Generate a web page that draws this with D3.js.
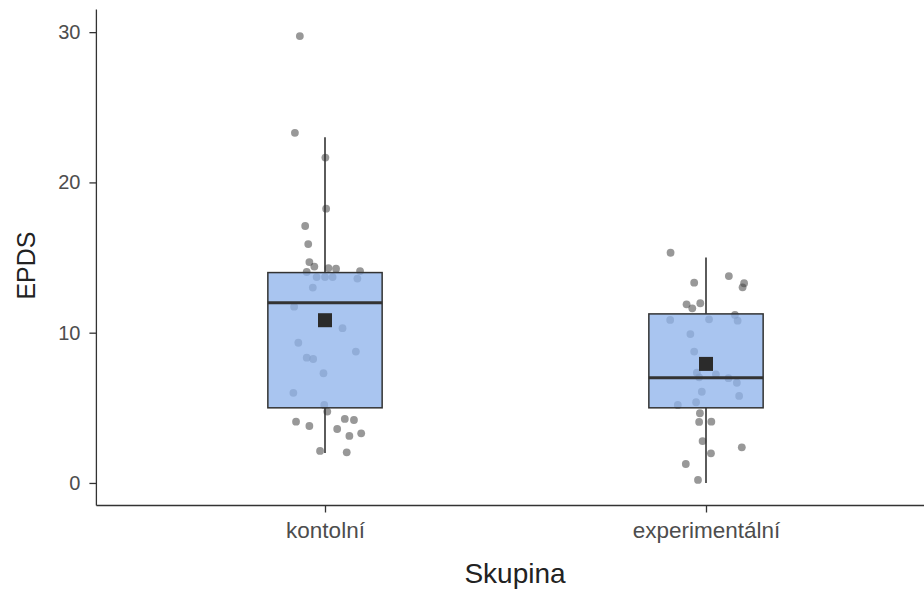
<!DOCTYPE html>
<html><head><meta charset="utf-8">
<script src="https://cdn.jsdelivr.net/npm/d3@7"></script>
<style>body{margin:0;background:#fff}svg{display:block}text{font-family:"Liberation Sans",Arial,sans-serif}</style>
</head><body>
<svg id="chart" width="924" height="589"></svg>
<script>
// ---- data ----
const categories = ["kontolní", "experimentální"];
const yTicks = [0, 10, 20, 30];
const xTitle = "Skupina";
const yTitle = "EPDS";
// box statistics
const q1 = [5, 5];
const medians = [12, 7];
const q3 = [14, 11.25];
const whiskerLo = [2, 0];
const whiskerHi = [23, 15];
// jittered observations
const valuesK = [29.74,23.3,21.65,18.25,17.1,15.9,14.7,14.4,14.3,14.26,14.1,14.04,13.7,13.7,13.7,13.6,13.0,11.73,10.3,9.33,8.34,8.25,8.74,7.3,6.0,5.19,4.75,4.08,3.79,4.26,4.19,3.59,3.13,3.3,2.13,2.04];
const jitterK = [-0.066,-0.079,0.001,0.003,-0.052,-0.044,-0.041,-0.028,0.009,0.029,0.092,-0.048,-0.022,0,0.020,0.085,-0.032,-0.081,0.046,-0.070,-0.048,-0.031,0.081,-0.004,-0.083,-0.002,0.006,-0.076,-0.041,0.052,0.076,0.032,0.064,0.095,-0.013,0.057];
const valuesE = [15.32,13.33,13.77,13.29,13.02,11.89,11.62,11.96,10.85,10.89,11.18,10.8,9.91,8.74,7.34,7.03,7.23,6.97,6.67,6.07,5.79,5.19,5.37,4.64,4.06,4.08,2.79,1.97,2.37,1.26,0.2];
const jitterE = [-0.093,-0.031,0.060,0.100,0.096,-0.051,-0.036,-0.015,-0.094,0.008,0.076,0.083,-0.041,-0.031,-0.024,-0.018,0.026,0.059,0.081,-0.011,0.087,-0.074,-0.026,-0.016,-0.018,0.014,-0.009,0.013,0.094,-0.053,-0.021];

const groups = [
  {cat: categories[0], values: valuesK, jitter: jitterK},
  {cat: categories[1], values: valuesE, jitter: jitterE}
];

// ---- layout ----
const svg = d3.select("#chart");
const panel = {left: 96.4, right: 934.6, top: 9.6, bottom: 505.5};
const x = d3.scalePoint().domain(categories).range([panel.left, panel.right]).padding(0.6);
const y = d3.scaleLinear().domain([-1.5, 31.5]).range([panel.bottom, panel.top]);
const step = x.step();
const boxW = 0.3 * step;

// points (under boxes)
const pts = svg.append("g");
groups.forEach(g => {
  pts.selectAll(null).data(g.values).enter().append("circle")
    .attr("cx", (d, i) => x(g.cat) + g.jitter[i] * step)
    .attr("cy", d => y(d))
    .attr("r", 3.9)
    .attr("fill", "#444")
    .attr("fill-opacity", 0.55);
});

// boxes
const bx = svg.append("g");
categories.forEach((c, i) => {
  const cx = x(c);
  bx.append("line").attr("x1", cx).attr("x2", cx).attr("y1", y(q3[i])).attr("y2", y(whiskerHi[i]))
    .attr("stroke", "#333").attr("stroke-width", 1.6);
  bx.append("line").attr("x1", cx).attr("x2", cx).attr("y1", y(q1[i])).attr("y2", y(whiskerLo[i]))
    .attr("stroke", "#333").attr("stroke-width", 1.6);
  bx.append("rect").attr("x", cx - boxW / 2).attr("width", boxW)
    .attr("y", y(q3[i])).attr("height", y(q1[i]) - y(q3[i]))
    .attr("fill", "#8fb4eb").attr("fill-opacity", 0.77)
    .attr("stroke", "#333").attr("stroke-width", 1.5);
  bx.append("line").attr("x1", cx - boxW / 2).attr("x2", cx + boxW / 2)
    .attr("y1", y(medians[i])).attr("y2", y(medians[i]))
    .attr("stroke", "#333").attr("stroke-width", 3);
  const m = d3.mean(groups[i].values);
  bx.append("rect").attr("x", cx - 7).attr("y", y(m) - 7).attr("width", 14).attr("height", 14)
    .attr("fill", "#2b2b2b");
});

// axes
const yAxis = svg.append("g").attr("transform", `translate(${panel.left},0)`)
  .call(d3.axisLeft(y).tickValues(yTicks).tickSize(7).tickPadding(9));
const xAxis = svg.append("g").attr("transform", `translate(0,${panel.bottom})`)
  .call(d3.axisBottom(x).tickSize(7).tickPadding(10));
[yAxis, xAxis].forEach(a => {
  a.select(".domain").remove();
  a.selectAll(".tick line").attr("stroke", "#333").attr("stroke-width", 1.3);
  a.selectAll(".tick text").attr("fill", "#4d4d4d")
    .style("font-family", '"Liberation Sans", Arial, sans-serif');
});
yAxis.selectAll(".tick text").style("font-size", "20px");
xAxis.selectAll(".tick text").style("font-size", "22.5px");
svg.append("line").attr("x1", panel.left).attr("x2", panel.left).attr("y1", panel.top).attr("y2", panel.bottom)
  .attr("stroke", "#333").attr("stroke-width", 1.3);
svg.append("line").attr("x1", panel.left).attr("x2", 924).attr("y1", panel.bottom).attr("y2", panel.bottom)
  .attr("stroke", "#333").attr("stroke-width", 1.3);

// titles
svg.append("text").attr("x", 515).attr("y", 583)
  .attr("text-anchor", "middle").style("font-size", "28px").attr("fill", "#222").text(xTitle);
svg.append("text").attr("transform", `translate(35,${(panel.top + panel.bottom) / 2 + 8}) rotate(-90)`)
  .attr("text-anchor", "middle").style("font-size", "25px").attr("fill", "#222").text(yTitle);
</script>
</body></html>
